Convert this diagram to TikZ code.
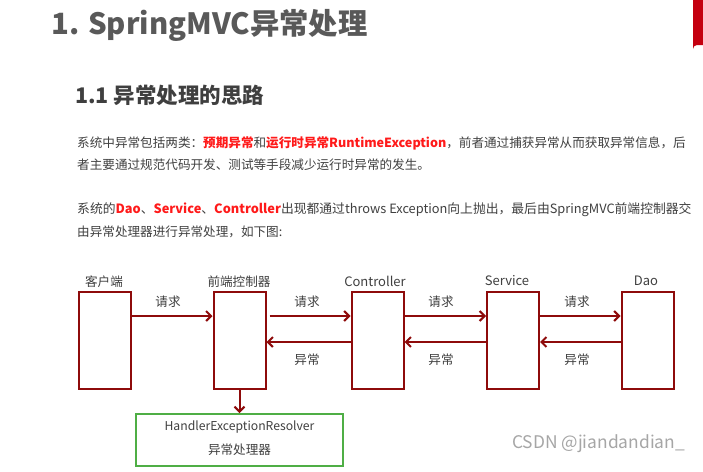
\documentclass[tikz,border=0pt]{standalone}
\usepackage{fontspec}
\setmainfont{Noto Sans CJK SC}
\usetikzlibrary{arrows.meta}
\definecolor{boxred}{HTML}{8E0B0B}
\definecolor{boxgreen}{HTML}{4FAE45}
\definecolor{tabred}{HTML}{C40010}
\definecolor{titlegray}{HTML}{595959}
\definecolor{subgray}{HTML}{3F3F3F}
\definecolor{bodygray}{HTML}{404040}
\definecolor{hired}{HTML}{FF1A1A}
\definecolor{wmgray}{HTML}{A6A6A6}
\tikzset{
  lane/.style={draw=boxred, line width=2pt, minimum width=52pt, minimum height=97pt, inner sep=0pt},
  arr/.style={draw=boxred, line width=2pt, -{Straight Barb[length=5pt,width=10pt,line width=2pt]}},
  lbl/.style={text=bodygray, font=\fontsize{12.6}{15}\selectfont, inner sep=0pt},
  body/.style={anchor=west, text=bodygray, font=\fontsize{12.6}{15}\selectfont, inner sep=0pt},
}
\begin{document}
\begin{tikzpicture}[x=1pt,y=-1pt]
\useasboundingbox (0,0) rectangle (703,471);
\fill[white] (0,0) rectangle (703,471);
% red tab
\fill[tabred] (693,0) -- (703,0) -- (703,45) -- (697,45) arc[start angle=270,end angle=180,radius=4] -- cycle;
% headings
\node[anchor=west, text=titlegray, font=\fontsize{29.3}{32}\selectfont\bfseries, inner sep=0pt] (title) at (51,25) {1. SpringMVC异常处理};
\node[anchor=west, text=subgray, font=\fontsize{21.5}{24}\selectfont\bfseries, inner sep=0pt] (sub) at (75,95) {1.1 异常处理的思路};
% body text
\node[body] (l1) at (77,143) {系统中异常包括两类：\textcolor{hired}{\bfseries 预期异常}和\textcolor{hired}{\bfseries 运行时异常RuntimeException}，前者通过捕获异常从而获取异常信息，后};
\node[body] (l2) at (77,165) {者主要通过规范代码开发、测试等手段减少运行时异常的发生。};
\node[body, font=\fontsize{12.8}{15}\selectfont] (l3) at (77,210) {系统的\textcolor{hired}{\bfseries Dao}、\textcolor{hired}{\bfseries Service}、\textcolor{hired}{\bfseries Controller}出现都通过throws Exception向上抛出，最后由SpringMVC前端控制器交};
\node[body] (l4) at (77,232) {由异常处理器进行异常处理，如下图:};
% boxes
\node[lane] (client) at (104.5,340.5) {};
\node[lane] (front) at (239.5,340.5) {};
\node[lane] (ctrl) at (377.5,340.5) {};
\node[lane] (svc) at (513,340.5) {};
\node[lane] (dao) at (647.5,340.5) {};
% titles
\node[lbl] (tclient) at (104,282) {客户端};
\node[lbl] (tfront) at (239,282) {前端控制器};
\node[lbl, font=\fontsize{13}{15}\selectfont] (tctrl) at (375,281) {Controller};
\node[lbl, font=\fontsize{13}{15}\selectfont] (tsvc) at (507,281) {Service};
\node[lbl, font=\fontsize{13}{15}\selectfont] (tdao) at (646,281) {Dao};
% request arrows
\coordinate (req) at (0,316);
\coordinate (exc) at (0,342);
\draw[arr] (client.east |- req) -- (front.west |- req);
\draw[arr, shorten <=3pt] (front.east |- req) -- (ctrl.west |- req);
\draw[arr] (ctrl.east |- req) -- (svc.west |- req);
\draw[arr] (svc.east |- req) -- (dao.west |- req);
% exception arrows
\draw[arr] (ctrl.west |- exc) -- (front.east |- exc);
\draw[arr] (svc.west |- exc) -- (ctrl.east |- exc);
\draw[arr] (dao.west |- exc) -- (svc.east |- exc);
% labels
\node[lbl] (q1) at (168,302) {请求};
\node[lbl] (q2) at (307,302) {请求};
\node[lbl] (q3) at (441,302) {请求};
\node[lbl] (q4) at (577,302) {请求};
\node[lbl] (e1) at (307,360) {异常};
\node[lbl] (e2) at (441,360) {异常};
\node[lbl] (e3) at (577,360) {异常};
% resolver
\node[draw=boxgreen, line width=2pt, minimum width=207pt, minimum height=52pt, inner sep=0pt] (res) at (239.5,440) {};
\node[lbl, font=\fontsize{12.2}{15}\selectfont] (r1) at (239.5,427) {HandlerExceptionResolver};
\node[lbl] (r2) at (239.5,450) {异常处理器};
\draw[arr] (front.south) -- (res.north);
% watermark
\node[anchor=west, text=wmgray, font=\fontsize{17.4}{20}\selectfont, inner sep=0pt] (wm) at (512,444) {CSDN @jiandandian\_};
\end{tikzpicture}
\end{document}
